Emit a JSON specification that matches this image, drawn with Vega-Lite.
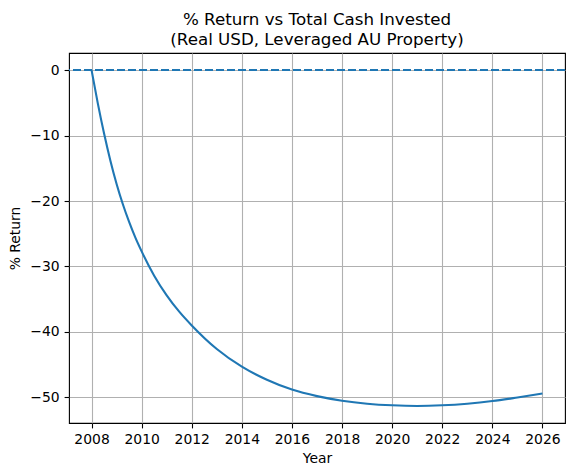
{
  "$schema": "https://vega.github.io/schema/vega-lite/v6.json",
  "autosize": "none",
  "width": 496,
  "height": 370,
  "padding": {"left": 69, "top": 53, "right": 9, "bottom": 53},
  "background": "white",
  "config": {
    "font": "DejaVu Sans",
    "view": {"stroke": "black", "strokeWidth": 1.1},
    "axis": {
      "domain": false,
      "tickColor": "black",
      "tickSize": 4.9,
      "tickWidth": 1.1,
      "labelPadding": 4.9,
      "labelFontSize": 13.9,
      "labelColor": "black",
      "titleFontSize": 13.9,
      "titleFontWeight": "normal",
      "titleColor": "black",
      "gridColor": "#b0b0b0",
      "gridWidth": 1.1,
      "gridOpacity": 1
    }
  },
  "title": {
    "text": ["% Return vs Total Cash Invested", "(Real USD, Leveraged AU Property)"],
    "fontSize": 16.7,
    "fontWeight": "normal",
    "color": "black",
    "lineHeight": 20,
    "anchor": "middle",
    "baseline": "bottom",
    "offset": -13
  },
  "data": {
    "values": [
      {"year": 2008.0, "ret": 0},
      {"year": 2008.25, "ret": -5.1},
      {"year": 2008.5, "ret": -9.7},
      {"year": 2008.75, "ret": -13.8},
      {"year": 2009.0, "ret": -17.4},
      {"year": 2009.25, "ret": -20.5},
      {"year": 2009.5, "ret": -23.2},
      {"year": 2009.75, "ret": -25.6},
      {"year": 2010.0, "ret": -27.7},
      {"year": 2010.5, "ret": -31.4},
      {"year": 2011.0, "ret": -34.4},
      {"year": 2011.5, "ret": -36.9},
      {"year": 2012.0, "ret": -39.0},
      {"year": 2013.0, "ret": -42.6},
      {"year": 2014.0, "ret": -45.3},
      {"year": 2015.0, "ret": -47.3},
      {"year": 2016.0, "ret": -48.8},
      {"year": 2017.0, "ret": -49.8},
      {"year": 2018.0, "ret": -50.5},
      {"year": 2019.0, "ret": -50.95},
      {"year": 2020.0, "ret": -51.2},
      {"year": 2021.0, "ret": -51.3},
      {"year": 2022.0, "ret": -51.2},
      {"year": 2023.0, "ret": -50.95},
      {"year": 2024.0, "ret": -50.55},
      {"year": 2025.0, "ret": -50.0},
      {"year": 2026.0, "ret": -49.4}
    ]
  },
  "layer": [
    {
      "mark": {"type": "line", "color": "#1f77b4", "strokeWidth": 2.1, "interpolate": "monotone", "clip": true},
      "encoding": {
        "x": {
          "field": "year",
          "type": "quantitative",
          "scale": {"domain": [2007.1, 2026.9], "nice": false, "zero": false},
          "axis": {"title": "Year", "values": [2008, 2010, 2012, 2014, 2016, 2018, 2020, 2022, 2024, 2026], "format": "d", "titlePadding": 5}
        },
        "y": {
          "field": "ret",
          "type": "quantitative",
          "scale": {"domain": [-53.9, 2.6], "nice": false, "zero": false},
          "axis": {"title": "% Return", "values": [-50, -40, -30, -20, -10, 0], "format": "d", "titlePadding": 7}
        }
      }
    },
    {
      "mark": {"type": "rule", "color": "#1f77b4", "strokeWidth": 2.1, "strokeDash": [7.7, 3.3]},
      "encoding": {"y": {"datum": 0, "type": "quantitative"}}
    }
  ]
}
